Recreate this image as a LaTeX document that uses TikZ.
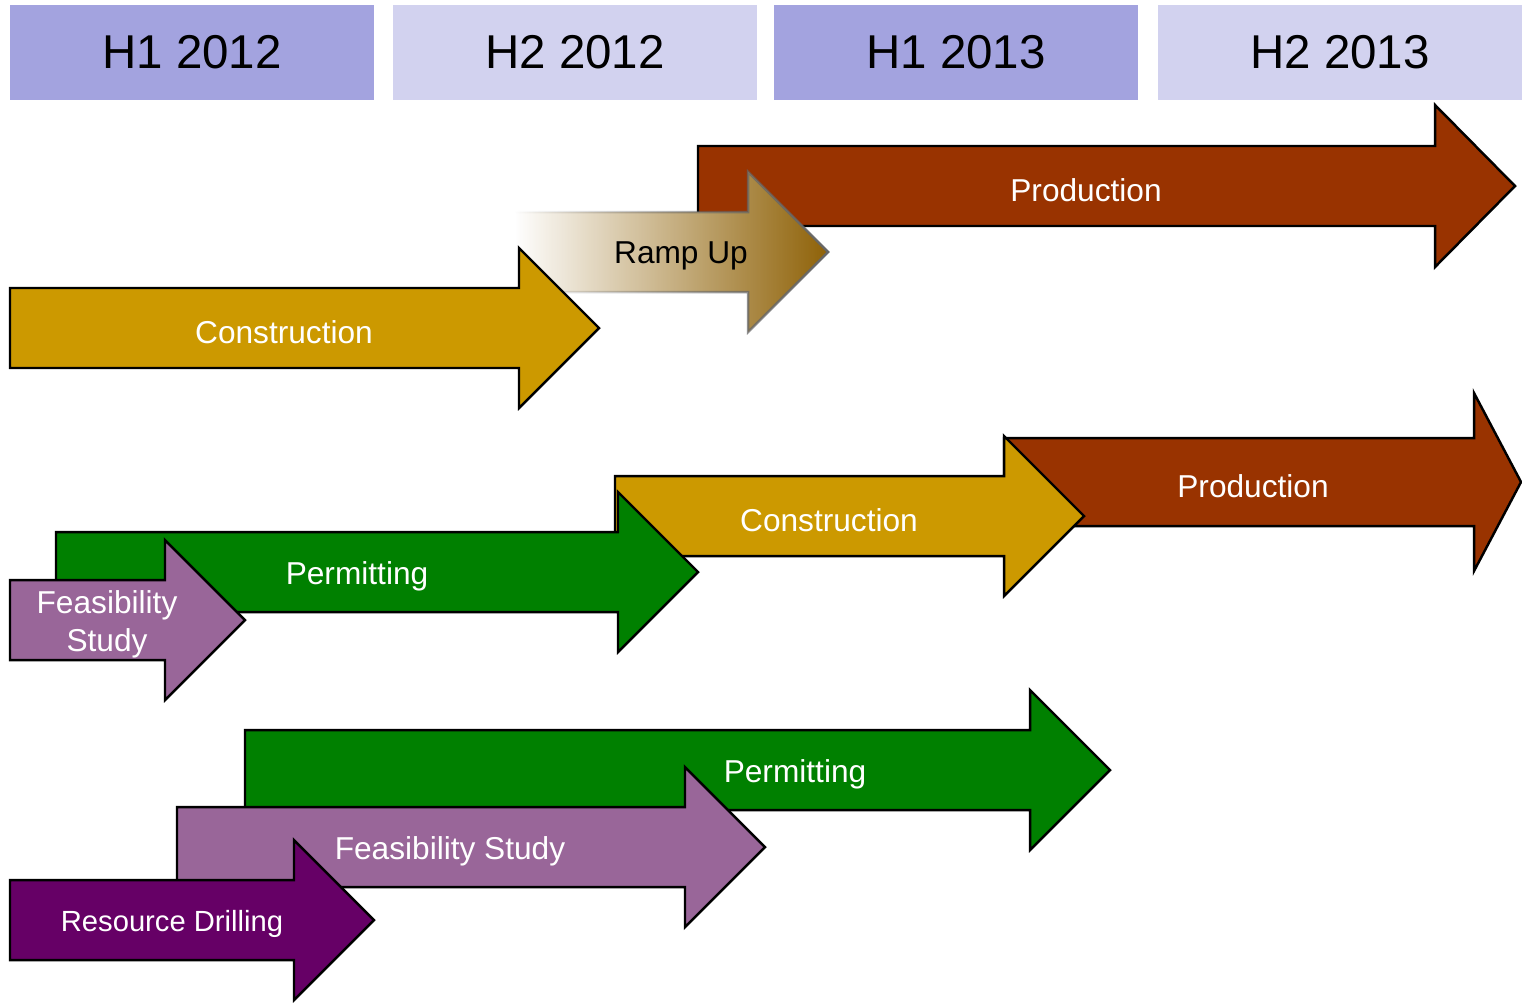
\documentclass[tikz,border=0pt]{standalone}
\usepackage{fontspec}
\setmainfont{Liberation Sans}
\usetikzlibrary{fadings}
\definecolor{halfdark}{HTML}{A3A3DF}
\definecolor{halflight}{HTML}{D2D2EF}
\definecolor{prodcol}{HTML}{993300}
\definecolor{conscol}{HTML}{CC9900}
\definecolor{permcol}{HTML}{008000}
\definecolor{feascol}{HTML}{996699}
\definecolor{drillcol}{HTML}{660066}
\definecolor{rampcol}{HTML}{8F6208}
\tikzfading[name=rampfade, left color=transparent!100, right color=transparent!0]

\begin{document}
\begin{tikzpicture}[x=0.01cm, y=-0.01cm,
    halfbox/.style={minimum width=3.64cm, minimum height=0.95cm, inner sep=0pt,
      font=\fontsize{13.5}{16}\selectfont},
    phase/.style={draw=black, line width=0.7pt, line join=miter},
    lbl/.style={text=white, font=\fontsize{9}{10.8}\selectfont, align=center, yshift=-0.9pt}]
\useasboundingbox (0,0) rectangle (1522,1002);

% half-year headers
\node[halfbox, fill=halfdark]  (h12a) at (192,52.5)  {H1 2012};
\node[halfbox, fill=halflight] (h12b) at (575,52.5)  {H2 2012};
\node[halfbox, fill=halfdark]  (h13a) at (956,52.5)  {H1 2013};
\node[halfbox, fill=halflight] (h13b) at (1340,52.5) {H2 2013};

% first plan
\draw[phase, fill=prodcol] (698,146) -- (1435,146) -- (1435,105) -- (1515,186)
  -- (1435,267) -- (1435,226) -- (698,226) -- cycle;
\node[lbl] (prod1) at (1086,187) {Production};
\fill[white] (515,212) -- (748,212) -- (748,172) -- (828,252)
  -- (748,332) -- (748,292) -- (515,292) -- cycle;
\fill[rampcol, path fading=rampfade] (515,212) -- (748,212) -- (748,172) -- (828,252)
  -- (748,332) -- (748,292) -- (515,292) -- cycle;
\draw[gray!80!black, line width=0.7pt, path fading=rampfade] (515,212) -- (748,212) -- (748,172)
  -- (828,252) -- (748,332) -- (748,292) -- (515,292);
\node[lbl, text=black] (ramp1) at (681,253) {Ramp Up};
\draw[phase, fill=conscol] (10,288) -- (519,288) -- (519,248) -- (599,328)
  -- (519,408) -- (519,368) -- (10,368) -- cycle;
\node[lbl] (cons1) at (284,329) {Construction};

% second plan
\draw[phase, fill=prodcol] (1004,438) -- (1474,438) -- (1474,393) -- (1521,482)
  -- (1474,571) -- (1474,526) -- (1004,526) -- cycle;
\node[lbl] (prod2) at (1253,483) {Production};
\draw[phase, fill=conscol] (615,476) -- (1004,476) -- (1004,436) -- (1084,516)
  -- (1004,596) -- (1004,556) -- (615,556) -- cycle;
\node[lbl] (cons2) at (829,517) {Construction};
\draw[phase, fill=permcol] (56,532) -- (618,532) -- (618,492) -- (698,572)
  -- (618,652) -- (618,612) -- (56,612) -- cycle;
\node[lbl] (perm2) at (357,573) {Permitting};
\draw[phase, fill=feascol] (10,580) -- (165,580) -- (165,540) -- (245,620)
  -- (165,700) -- (165,660) -- (10,660) -- cycle;
\node[lbl] (feas2) at (107,621) {Feasibility\\Study};

% third plan
\draw[phase, fill=permcol] (245,730) -- (1030,730) -- (1030,690) -- (1110,770)
  -- (1030,850) -- (1030,810) -- (245,810) -- cycle;
\node[lbl] (perm3) at (795,771) {Permitting};
\draw[phase, fill=feascol] (177,807) -- (685,807) -- (685,767) -- (765,847)
  -- (685,927) -- (685,887) -- (177,887) -- cycle;
\node[lbl] (feas3) at (450,848) {Feasibility Study};
\draw[phase, fill=drillcol] (10,880) -- (294,880) -- (294,840) -- (374,920)
  -- (294,1000) -- (294,960) -- (10,960) -- cycle;
\node[lbl, font=\fontsize{8.3}{10}\selectfont] (drill3) at (172,921) {Resource Drilling};
\end{tikzpicture}
\end{document}
